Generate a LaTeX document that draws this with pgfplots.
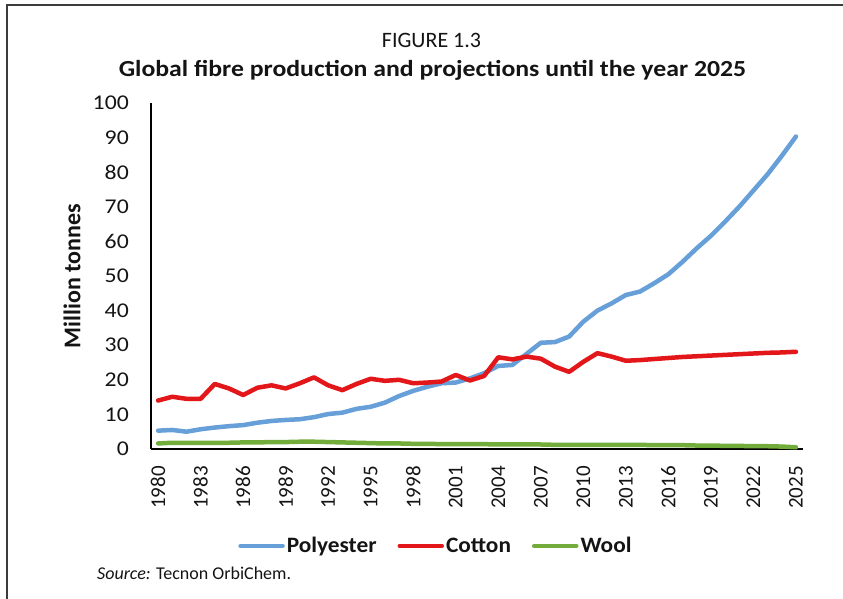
\documentclass[border=0pt]{standalone}
\usepackage{pgfplots}
\pgfplotsset{compat=1.18}
\usepackage{fontspec}
\setmainfont{Carlito}
\newfontfamily\widefont[FakeStretch=1.12]{Carlito}
\newfontfamily\tickfont[FakeStretch=1.13]{Carlito}
\newfontfamily\legfont[FakeStretch=1.06]{Carlito}
\definecolor{polyblue}{RGB}{103,160,216}
\definecolor{cotred}{RGB}{227,22,26}
\definecolor{woolgreen}{RGB}{114,172,58}
\definecolor{framegray}{RGB}{60,60,60}
\definecolor{txt}{RGB}{20,20,20}
\begin{document}
\begin{tikzpicture}[x=1bp,y=1bp]
\path[use as bounding box] (0,0) rectangle (843,599);
\draw[framegray, line width=2bp] (7,0) -- (7,594) -- (843,594);
\node[font=\fontsize{22bp}{26bp}\selectfont, text=txt] at (431.5,559) {FIGURE 1.3};
\node[font=\widefont\fontsize{23bp}{27bp}\selectfont\bfseries, text=txt] at (432.5,529) {Global fibre production and projections until the year 2025};
\node[font=\fontsize{18bp}{22bp}\selectfont, text=txt, anchor=west, inner sep=0pt] at (97,26) {\textit{Source:} Tecnon OrbiChem.};
\begin{axis}[
  at={(151bp,150bp)}, anchor=south west,
  scale only axis, width=652bp, height=346bp,
  xmin=1979.5, xmax=2025.5, ymin=0, ymax=100,
  axis x line*=bottom, axis y line*=left,
  axis line style={black, line width=1.2bp, -},
  major tick length=0pt,
  xtick={1980,1983,...,2025},
  ytick={0,10,...,100},
  /pgf/number format/assume math mode=true,
  /pgf/number format/set thousands separator={},
  xticklabel style={font=\fontsize{21bp}{25bp}\selectfont, text=txt, rotate=90, anchor=east, inner xsep=17bp, inner ysep=0pt},
  yticklabel style={font=\tickfont\fontsize{21bp}{25bp}\selectfont, text=txt, anchor=east, inner xsep=22bp, inner ysep=0pt},
  ylabel={Million tonnes},
  ylabel style={at={(axis description cs:-0.1212,0.5)}, anchor=center, rotate=0, font=\fontsize{24bp}{28bp}\selectfont\bfseries, text=txt},
  legend columns=3,
  legend style={draw=none, fill=none, at={(axis description cs:0.437,-0.280)}, anchor=center,
    font=\legfont\fontsize{22bp}{26bp}\selectfont\bfseries, text=txt,
    /tikz/every even column/.append style={column sep=19bp},
    inner sep=0pt},
  legend cell align=left,
  legend image code/.code={\draw[#1, line width=4.5bp, line cap=round] (0bp,0bp) -- (42bp,0bp);},
  every axis plot/.append style={line width=4.5bp, line join=round, line cap=round},
  clip=false,
]
\addplot[polyblue] coordinates {
(1980,5.3) (1981,5.5) (1982,5.0) (1983,5.7) (1984,6.2) (1985,6.6) (1986,6.9) (1987,7.6) (1988,8.1) (1989,8.4)
(1990,8.6) (1991,9.2) (1992,10.1) (1993,10.5) (1994,11.6) (1995,12.2) (1996,13.4) (1997,15.3) (1998,16.8) (1999,18.0)
(2000,19.0) (2001,19.2) (2002,20.4) (2003,21.9) (2004,24.0) (2005,24.3) (2006,27.5) (2007,30.7) (2008,30.9) (2009,32.5)
(2010,36.8) (2011,40.0) (2012,42.1) (2013,44.5) (2014,45.5) (2015,47.9) (2016,50.5) (2017,54.1) (2018,58.0) (2019,61.6)
(2020,65.7) (2021,70.0) (2022,74.7) (2023,79.4) (2024,84.7) (2025,90.3)
};
\addlegendentry{Polyester}
\addplot[cotred] coordinates {
(1980,14.0) (1981,15.1) (1982,14.5) (1983,14.5) (1984,18.8) (1985,17.5) (1986,15.6) (1987,17.7) (1988,18.4) (1989,17.5)
(1990,19.0) (1991,20.7) (1992,18.4) (1993,17.0) (1994,18.8) (1995,20.3) (1996,19.7) (1997,20.0) (1998,19.0) (1999,19.2)
(2000,19.5) (2001,21.4) (2002,19.8) (2003,21.1) (2004,26.5) (2005,25.9) (2006,26.7) (2007,26.1) (2008,23.8) (2009,22.3)
(2010,25.2) (2011,27.7) (2012,26.7) (2013,25.5) (2014,25.7) (2015,26.0) (2016,26.3) (2017,26.6) (2018,26.8) (2019,27.0)
(2020,27.2) (2021,27.4) (2022,27.6) (2023,27.8) (2024,27.9) (2025,28.1)
};
\addlegendentry{Cotton}
\addplot[woolgreen] coordinates {
(1980,1.6) (1981,1.8) (1982,1.8) (1983,1.8) (1984,1.8) (1985,1.8) (1986,1.9) (1987,1.9) (1988,2.0) (1989,2.0)
(1990,2.1) (1991,2.1) (1992,2.0) (1993,1.9) (1994,1.8) (1995,1.7) (1996,1.6) (1997,1.6) (1998,1.5) (1999,1.5)
(2000,1.4) (2001,1.4) (2002,1.4) (2003,1.4) (2004,1.3) (2005,1.3) (2006,1.3) (2007,1.3) (2008,1.2) (2009,1.2)
(2010,1.2) (2011,1.2) (2012,1.2) (2013,1.2) (2014,1.2) (2015,1.1) (2016,1.1) (2017,1.1) (2018,1.0) (2019,1.0)
(2020,0.9) (2021,0.9) (2022,0.8) (2023,0.8) (2024,0.7) (2025,0.5)
};
\addlegendentry{Wool}
\end{axis}
\end{tikzpicture}
\end{document}
